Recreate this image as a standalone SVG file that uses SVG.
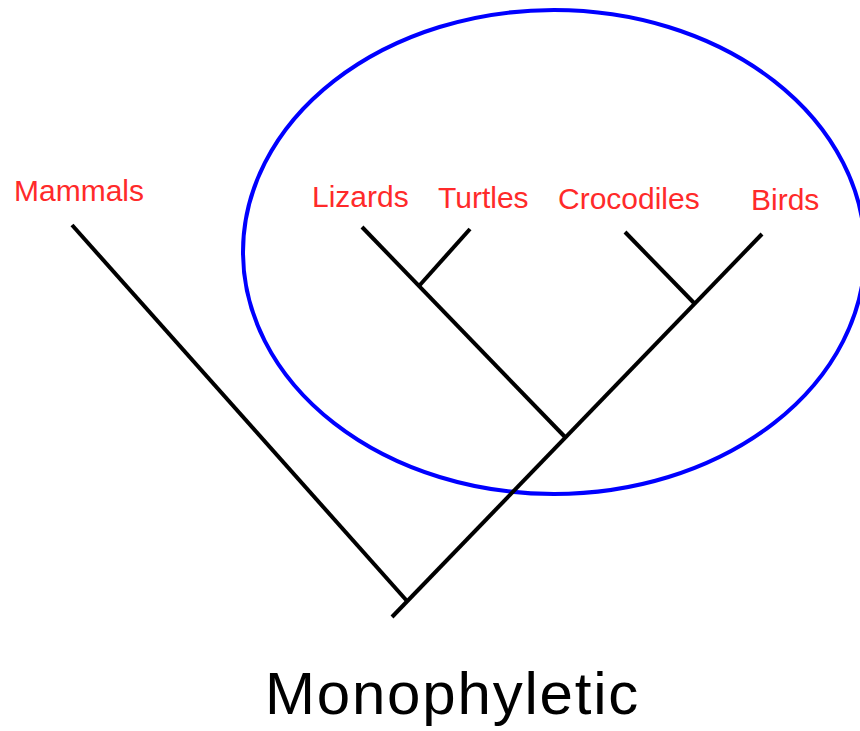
<svg xmlns="http://www.w3.org/2000/svg" width="860" height="731" viewBox="0 0 860 731">
<style>
.bg{fill:#ffffff}
.lbl{font-family:"Liberation Sans",Arial,sans-serif;font-size:30px;fill:#ff2a2a}
.title{font-family:"Liberation Sans",Arial,sans-serif;font-size:60px;fill:#000000;letter-spacing:1.8px}
.br{stroke:#000000;stroke-width:4;stroke-linecap:butt;fill:none}
.clade{fill:none;stroke:#0000ff;stroke-width:4}
</style>
<rect class="bg" x="0" y="0" width="860" height="731"/>
<g id="clade-ellipse">
<ellipse class="clade" cx="554" cy="252" rx="311" ry="242"/>
</g>
<g id="connectors">
<line class="br" x1="72" y1="225" x2="407" y2="601"/>
<line class="br" x1="392" y1="617" x2="762" y2="234"/>
<line class="br" x1="362" y1="227" x2="566" y2="438"/>
<line class="br" x1="470" y1="229" x2="419" y2="286"/>
<line class="br" x1="625" y1="232" x2="695" y2="304"/>
</g>
<g id="mammals"><text class="lbl" x="14" y="201">Mammals</text></g>
<g id="lizards"><text class="lbl" x="312" y="207">Lizards</text></g>
<g id="turtles"><text class="lbl" x="438" y="208">Turtles</text></g>
<g id="crocodiles"><text class="lbl" x="558" y="209">Crocodiles</text></g>
<g id="birds"><text class="lbl" x="751" y="210">Birds</text></g>
<g id="title"><text class="title" x="265" y="714">Monophyletic</text></g>
</svg>
